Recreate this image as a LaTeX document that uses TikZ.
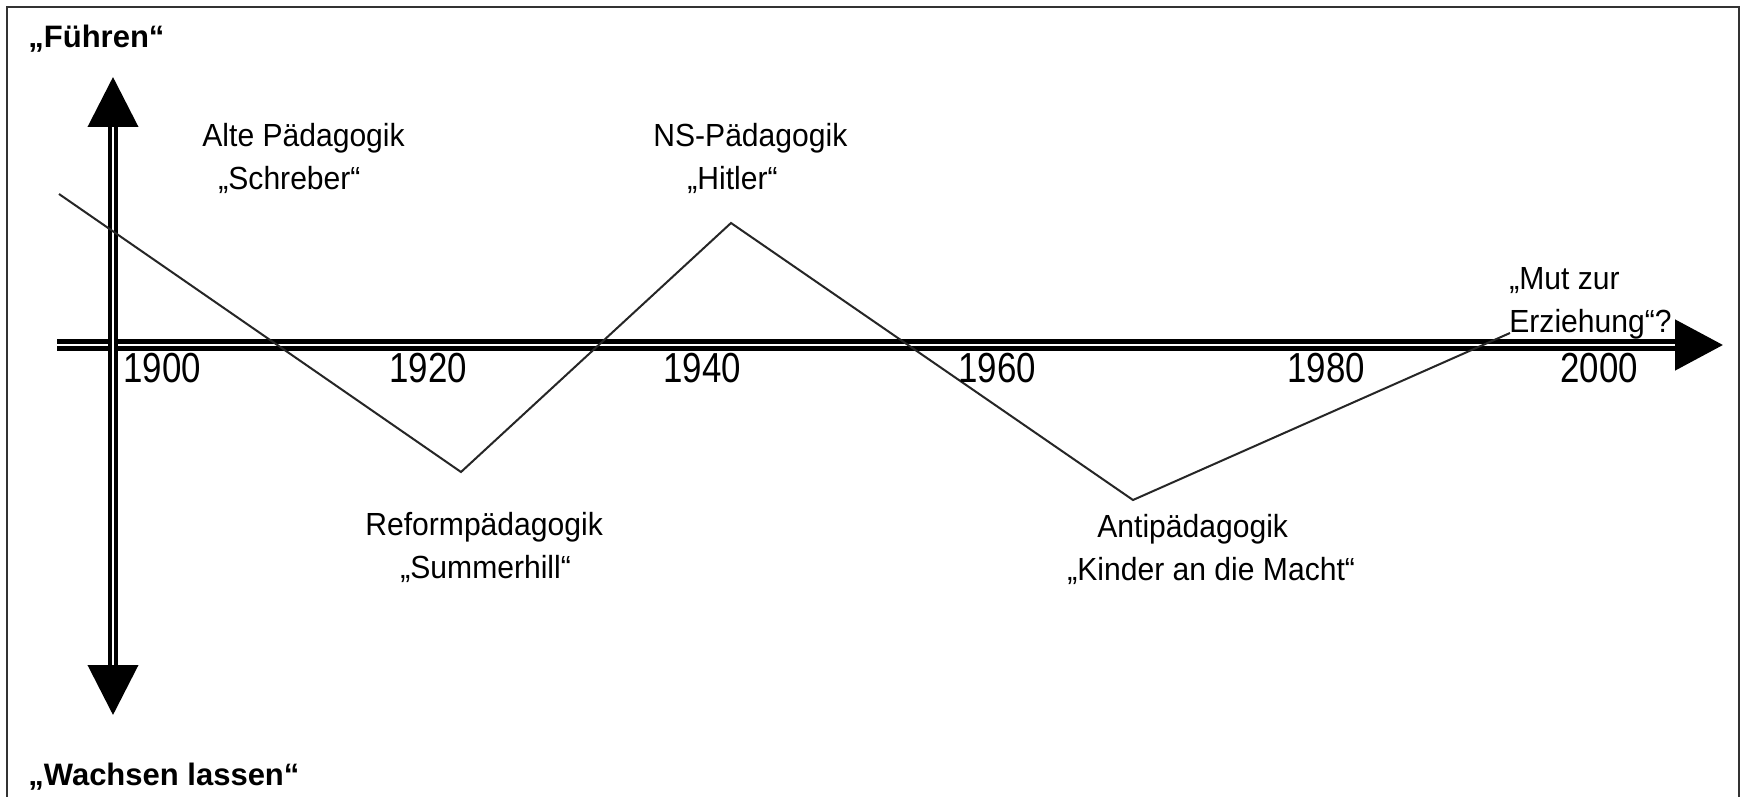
\documentclass[tikz,border=0pt]{standalone}
\usepackage{fontspec}
\setmainfont{Liberation Sans}
\newfontfamily\labelfont[FakeStretch=0.94]{Liberation Sans}
\newfontfamily\yearfont[FakeStretch=0.83]{Liberation Sans}
\usetikzlibrary{arrows.meta}

\begin{document}
\begin{tikzpicture}
[x=0.5pt,y=-0.5pt,
 axisDecorate/.style={double,line width=2.5pt,double distance=1.25pt,
   -{Triangle[length=24pt,width=25pt]}},
 labelDecorate/.style={anchor=base west,inner sep=0pt,align=left,
   font=\labelfont\fontsize{16}{21.5}\selectfont},
 poleDecorate/.style={anchor=base west,inner sep=0pt,
   font=\fontsize{15.5}{18}\selectfont\bfseries},
 yearDecorate/.style={anchor=base west,inner sep=0pt,
   font=\yearfont\fontsize{21}{25}\selectfont}]
\useasboundingbox[fill=white] (0,0) rectangle (1742,797);
%% frame
\draw[line width=1pt,black!80] (7,797) -- (7,7) -- (1739,7) -- (1739,797);
%% axes
\coordinate (west) at (57,345);
\coordinate (east) at (1723,345);
\coordinate (north) at (113,77);
\coordinate (south) at (113,715);
\draw[axisDecorate] (west) -- (east);
\draw[axisDecorate,line width=2pt,double distance=1pt,
  {Triangle[length=25pt,width=25pt]}-{Triangle[length=25pt,width=25pt]}] (north) -- (south);
%% zigzag
\coordinate (start) at (59,194);
\coordinate (reformLow) at (461,472);
\coordinate (nsHigh) at (731,223);
\coordinate (antiLow) at (1133,500);
\coordinate (mutEnd) at (1510,333);
\draw[line width=1pt,black!85] (start) -- (reformLow) -- (nsHigh) -- (antiLow) -- (mutEnd);
%% years
\foreach \year/\x in {1900/123, 1920/389, 1940/663, 1960/958, 1980/1287, 2000/1560}
{
  \node (y\year) at (\x,382) [yearDecorate] {\year};
}
%% labels (base = last line)
\node (fuehren) at (28,48) [poleDecorate] {„Führen“};
\node (wachsen) at (28,785) [poleDecorate] {„Wachsen lassen“};
\node (alt) at (202,190) [labelDecorate] {Alte Pädagogik\\\hspace*{8pt}„Schreber“};
\node (ns) at (653,190) [labelDecorate] {NS-Pädagogik\\\hspace*{17pt}„Hitler“};
\node (reform) at (365,578) [labelDecorate] {Reformpädagogik\\\hspace*{17.5pt}„Summerhill“};
\node (anti) at (1067,580) [labelDecorate] {\hspace*{15pt}Antipädagogik\\„Kinder an die Macht“};
\node (mut) at (1509,332) [labelDecorate] {„Mut zur\\Erziehung“?};
\end{tikzpicture}
\end{document}
